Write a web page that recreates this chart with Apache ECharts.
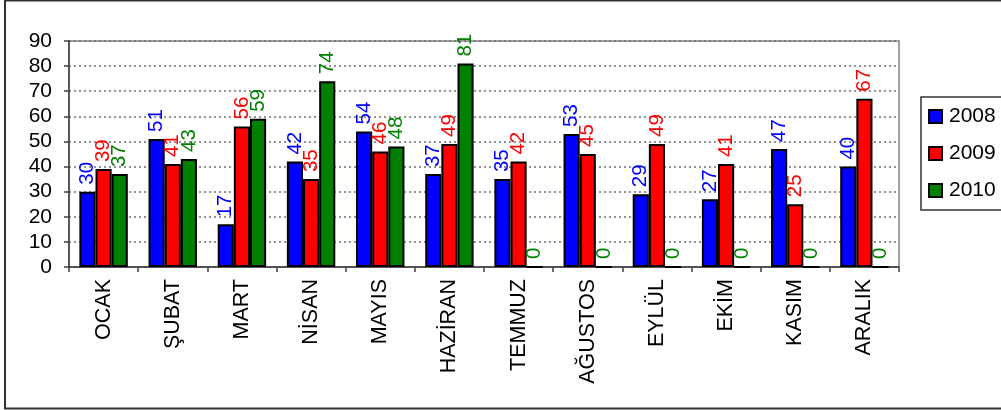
<!DOCTYPE html>
<html>
<head>
<meta charset="utf-8">
<script src="https://cdn.jsdelivr.net/npm/echarts@6/dist/echarts.min.js"></script>
<style>
html,body{margin:0;padding:0;background:#fff;}
#c{width:1001px;height:410px;}
</style>
</head>
<body>
<div id="c"></div>
<script>
var categories = ['OCAK','ŞUBAT','MART','NİSAN','MAYIS','HAZİRAN','TEMMUZ','AĞUSTOS','EYLÜL','EKİM','KASIM','ARALIK'];
var seriesNames = ['2008','2009','2010'];
var values2008 = [30,51,17,42,54,37,35,53,29,27,47,40];
var values2009 = [39,41,56,35,46,49,42,45,49,41,25,67];
var values2010 = [37,43,59,74,48,81,0,0,0,0,0,0];
var yTicks = [0,10,20,30,40,50,60,70,80,90];

var colors = ['#0000FF','#FF0000','#008000'];
var FONT = '"Liberation Sans", Arial, sans-serif';

function mkSeries(name, data, color){
  return {
    name: name, type: 'bar', data: data,
    barGap: '0%', barCategoryGap: '30%',
    itemStyle: {color: color, borderColor: '#000', borderWidth: 2},
    label: {
      show: true, position: 'top', rotate: 90, distance: 7,
      align: 'left', verticalAlign: 'middle',
      color: color, fontFamily: FONT, fontSize: 20.5
    }
  };
}

var chart = echarts.init(document.getElementById('c'), null, {renderer: 'canvas'});
chart.setOption({
  animation: false,
  backgroundColor: '#fff',
  grid: {left: 69, right: 102, top: 41, bottom: 143, show: true, borderColor: '#808080', borderWidth: 1.5, containLabel: false},
  legend: {
    orient: 'vertical', left: 921, top: 97,
    padding: [9, 30, 9, 7],
    itemWidth: 13, itemHeight: 13, itemGap: 16,
    borderColor: '#333', borderWidth: 1.5,
    textStyle: {fontFamily: FONT, fontSize: 21, color: '#000', padding: [0,0,0,2]},
    data: seriesNames.map(function(n){return {name:n, icon:'rect'};})
  },
  xAxis: {
    type: 'category', data: categories,
    axisLine: {lineStyle: {color: '#404040', width: 1.5}},
    axisTick: {show: true, length: 5, inside: false, alignWithLabel: false, lineStyle: {color: '#404040', width: 1.5}},
    axisLabel: {rotate: 90, margin: 12, interval: 0, color: '#000', fontFamily: FONT, fontSize: 21.5}
  },
  yAxis: {
    type: 'value', min: yTicks[0], max: yTicks[yTicks.length-1], interval: 10,
    axisLine: {show: true, lineStyle: {color: '#404040', width: 1.5}},
    axisTick: {show: true, length: 5, lineStyle: {color: '#404040', width: 1.5}},
    axisLabel: {margin: 17, color: '#000', fontFamily: FONT, fontSize: 21},
    splitLine: {show: true, lineStyle: {color: '#707070', width: 1.5, type: [2, 3]}}
  },
  graphic: [{
    type: 'rect', silent: true, z: 100,
    shape: {x: 5, y: 0.5, width: 1100, height: 408},
    style: {fill: 'none', stroke: '#333', lineWidth: 2}
  }],
  series: [
    mkSeries(seriesNames[0], values2008, colors[0]),
    mkSeries(seriesNames[1], values2009, colors[1]),
    mkSeries(seriesNames[2], values2010, colors[2])
  ]
});
</script>
</body>
</html>
